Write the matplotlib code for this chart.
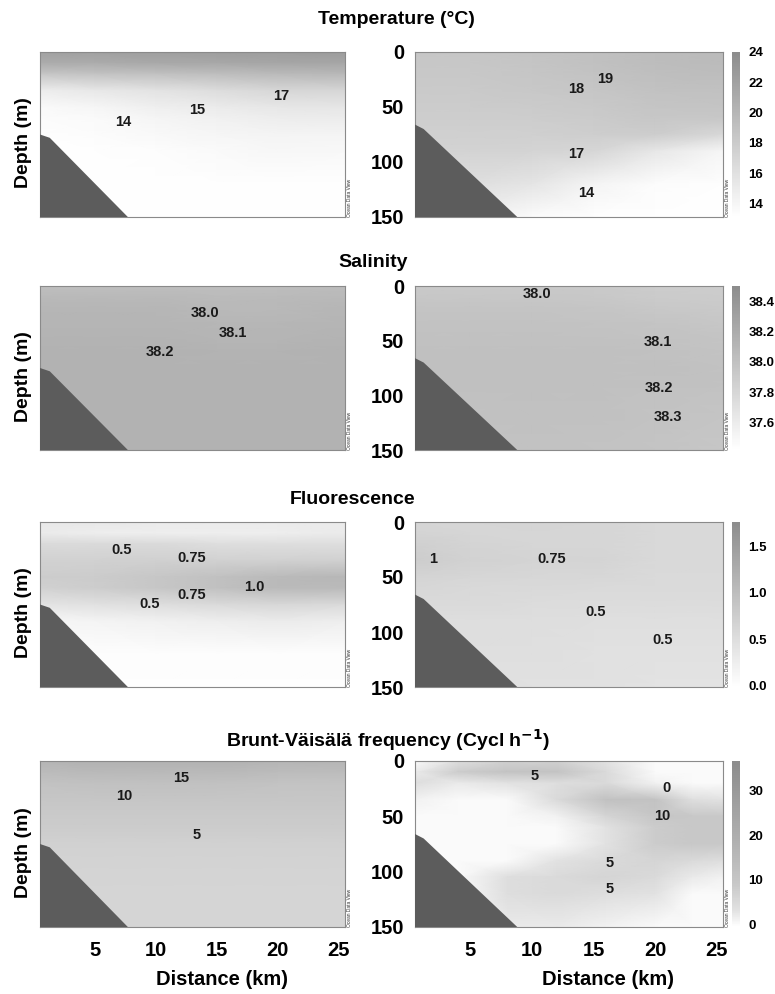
import numpy as np
import matplotlib
matplotlib.use('Agg')
import matplotlib.pyplot as plt
from matplotlib.colors import LinearSegmentedColormap, Normalize

plt.rcParams['font.family'] = ['Liberation Sans', 'DejaVu Sans']
plt.rcParams['font.weight'] = 'bold'

# grid of the sections (km along transect, m depth)
dist = [0.5, 5, 10, 15, 20, 25.5]
depth = [0, 10, 20, 35, 50, 60, 75, 90, 120, 150]

# Temperature (°C)
temp_left = [
    [22.0, 22.0, 22.2, 22.3, 22.3, 22.5],
    [21.0, 21.0, 21.2, 21.3, 21.5, 21.5],
    [18.5, 18.8, 19.0, 19.3, 19.6, 19.8],
    [14.8, 15.3, 15.8, 16.3, 16.9, 17.0],
    [13.6, 14.0, 14.6, 15.0, 15.4, 15.5],
    [13.4, 13.6, 14.1, 14.5, 14.8, 14.9],
    [13.2, 13.4, 13.7, 14.0, 14.2, 14.2],
    [13.2, 13.2, 13.3, 13.6, 13.9, 13.8],
    [13.2, 13.2, 13.2, 13.2, 13.2, 13.2],
    [13.2, 13.2, 13.2, 13.2, 13.2, 13.2],
]
temp_right = [
    [18.5, 18.5, 18.7, 19.0, 19.4, 19.5],
    [18.4, 18.4, 18.6, 19.0, 19.4, 19.5],
    [18.3, 18.3, 18.5, 18.8, 19.2, 19.4],
    [18.1, 18.1, 18.3, 18.5, 18.9, 19.0],
    [17.9, 17.9, 18.0, 18.2, 18.6, 18.7],
    [17.8, 17.8, 17.8, 18.0, 18.4, 18.4],
    [17.6, 17.6, 17.6, 17.7, 17.8, 16.8],
    [17.3, 17.3, 17.2, 17.0, 15.4, 14.0],
    [16.2, 16.2, 15.6, 14.2, 13.4, 13.2],
    [14.6, 14.6, 13.5, 13.2, 13.2, 13.2],
]

# Salinity
sal_left = [
    [38.02, 38.02, 38.03, 38.03, 38.03, 38.05],
    [38.08, 38.08, 38.08, 38.06, 38.07, 38.08],
    [38.10, 38.10, 38.10, 38.08, 38.08, 38.10],
    [38.12, 38.12, 38.12, 38.10, 38.10, 38.12],
    [38.13, 38.13, 38.13, 38.12, 38.12, 38.13],
    [38.14, 38.14, 38.14, 38.13, 38.13, 38.14],
    [38.14, 38.14, 38.14, 38.14, 38.14, 38.14],
    [38.14, 38.14, 38.14, 38.14, 38.14, 38.14],
    [38.14, 38.14, 38.14, 38.14, 38.14, 38.14],
    [38.14, 38.14, 38.14, 38.14, 38.14, 38.14],
]
sal_right = [
    [37.92, 37.92, 37.93, 37.92, 37.90, 37.89],
    [37.95, 37.95, 37.95, 37.94, 37.91, 37.90],
    [37.97, 37.97, 37.97, 37.96, 37.94, 37.92],
    [37.99, 37.99, 37.99, 37.98, 37.97, 37.95],
    [38.00, 38.00, 38.00, 38.00, 37.99, 37.97],
    [38.01, 38.01, 38.01, 38.01, 38.00, 37.98],
    [38.01, 38.01, 38.01, 38.01, 38.01, 37.99],
    [38.01, 38.01, 38.01, 38.01, 38.00, 37.99],
    [37.99, 37.99, 38.00, 38.00, 37.98, 37.96],
    [37.98, 37.98, 37.99, 37.98, 37.97, 37.95],
]

# Fluorescence
fluo_left = [
    [0.35, 0.35, 0.30, 0.30, 0.30, 0.30],
    [0.30, 0.25, 0.25, 0.25, 0.25, 0.30],
    [0.55, 0.55, 0.55, 0.50, 0.50, 0.50],
    [0.70, 0.70, 0.72, 0.70, 0.70, 0.72],
    [0.75, 0.78, 0.85, 0.95, 1.05, 1.10],
    [0.70, 0.75, 0.85, 0.95, 1.05, 1.05],
    [0.40, 0.45, 0.50, 0.55, 0.60, 0.55],
    [0.10, 0.15, 0.20, 0.25, 0.30, 0.25],
    [0.02, 0.02, 0.02, 0.02, 0.02, 0.02],
    [0.00, 0.00, 0.00, 0.00, 0.00, 0.00],
]
fluo_right = [
    [0.62, 0.62, 0.65, 0.62, 0.58, 0.58],
    [0.65, 0.62, 0.62, 0.62, 0.58, 0.58],
    [0.72, 0.65, 0.62, 0.62, 0.58, 0.58],
    [0.75, 0.68, 0.65, 0.65, 0.58, 0.58],
    [0.65, 0.62, 0.60, 0.60, 0.56, 0.56],
    [0.60, 0.58, 0.57, 0.56, 0.55, 0.55],
    [0.55, 0.55, 0.53, 0.52, 0.52, 0.52],
    [0.50, 0.50, 0.50, 0.48, 0.48, 0.48],
    [0.48, 0.48, 0.47, 0.45, 0.45, 0.45],
    [0.46, 0.46, 0.45, 0.45, 0.42, 0.42],
]

# Brunt-Väisälä frequency (cycl/h)
bv_left = [
    [17, 18, 18, 18, 17, 17],
    [14, 15, 15, 15, 14, 14],
    [11, 12, 12, 12, 11, 11],
    [10, 10, 10, 10, 10, 10],
    [8.5, 8.5, 8.5, 8.5, 8.5, 8.5],
    [8, 8, 8, 8, 8, 8],
    [7, 7, 7, 7, 7, 7],
    [6.5, 6.5, 6.5, 6.5, 6.5, 6.5],
    [6, 6, 6, 6, 6, 6],
    [6, 6, 6, 6, 6, 6],
]
bv_dist = [0.5, 4, 8, 12, 16, 20, 23, 25.5]
bv_depth = [0, 10, 20, 35, 50, 60, 75, 90, 105, 120, 150]
bv_right = [
    [0, 4, 7, 7, 3, 0, 0, 0],
    [2, 8, 11, 11, 5, 0, 0, 0],
    [4, 2, 3, 4, 5, 1, 0, 0],
    [1, 0, 0, 5, 12, 11, 4, 3],
    [0, 0, 0, 1, 6, 10, 9, 9],
    [0, 0, 0, 0, 3, 8, 9, 9],
    [0, 0, 0, 0, 3, 8, 9, 9],
    [0, 0, 0, 3, 5, 6, 5, 4],
    [0, 0, 4, 5, 6, 5, 2, 1],
    [0, 0, 4, 5, 4, 3, 0, 0],
    [0, 0, 2, 2, 1, 0, 0, 0],
]

# bottom topography
bottom_left_dist = [0.5, 1.3, 7.7]
bottom_left_depth = [75, 78, 150]
bottom_right_dist = [0.5, 1.2, 8.8]
bottom_right_depth = [66, 70, 150]

# contour labels (distance, depth, text)
lab_temp_left = [(7.3, 64, '14'), (13.4, 53, '15'), (20.3, 40, '17')]
lab_temp_right = [(15.9, 25, '19'), (13.6, 34, '18'), (13.6, 93, '17'), (14.4, 128, '14')]
lab_sal_left = [(14.0, 25, '38.0'), (16.3, 43, '38.1'), (10.3, 60, '38.2')]
lab_sal_right = [(10.4, 7, '38.0'), (20.2, 51, '38.1'), (20.3, 93, '38.2'), (21.0, 120, '38.3')]
lab_fluo_left = [(7.2, 25, '0.5'), (12.9, 33, '0.75'), (18.1, 59, '1.0'), (12.9, 66, '0.75'), (9.5, 75, '0.5')]
lab_fluo_right = [(2.0, 34, '1'), (11.6, 34, '0.75'), (15.2, 82, '0.5'), (20.6, 107, '0.5')]
lab_bv_left = [(12.1, 15, '15'), (7.4, 32, '10'), (13.3, 67, '5')]
lab_bv_right = [(10.2, 14, '5'), (20.9, 24, '0'), (20.6, 50, '10'), (16.3, 92, '5'), (16.3, 116, '5')]

temp_ticks = [14, 16, 18, 20, 22, 24]
sal_ticks = [37.6, 37.8, 38.0, 38.2, 38.4]
fluo_ticks = [0.0, 0.5, 1.0, 1.5]
bv_ticks = [0, 10, 20, 30]

grey = LinearSegmentedColormap.from_list('odv_grey', ['white', '#8c8c8c'])
bv_lo, bv_hi = -0.65, 36.7
f = lambda v: (v - bv_lo) / (bv_hi - bv_lo)
bv_cmap = LinearSegmentedColormap.from_list(
    'odv_bv', [(0, 'white'), (f(3), '#e2e2e2'), (f(9), '#c8c8c8'), (f(18), '#b2b2b2'), (1, '#8c8c8c')])

rows = [
    ('Temperature (°C)', temp_left, temp_right, dist, depth, 13.1, 24.0, grey, temp_ticks, '{:.0f}',
     lab_temp_left, lab_temp_right, 0.512, 20, 52, 217),
    ('Salinity', sal_left, sal_right, dist, depth, 37.42, 38.5, grey, sal_ticks, '{:.1f}',
     lab_sal_left, lab_sal_right, 0.482, 262, 286, 450),
    ('Fluorescence', fluo_left, fluo_right, dist, depth, -0.02, 1.77, grey, fluo_ticks, '{:.1f}',
     lab_fluo_left, lab_fluo_right, 0.455, 500, 522, 687),
    ('Brunt-Väisälä frequency (Cycl h$^{-1}$)', bv_left, bv_right, bv_dist, bv_depth, bv_lo, bv_hi, bv_cmap,
     bv_ticks, '{:.0f}', lab_bv_left, lab_bv_right, 0.5, 740, 761, 927),
]

W, H = 775, 994
fig = plt.figure(figsize=(W / 100, H / 100), dpi=100)


def style(ax, bottom_dist, bottom_depth, labels):
    ax.fill(list(bottom_dist) + [bottom_dist[0]], list(bottom_depth) + [150], color='#5c5c5c', lw=0, zorder=3)
    for x, z, s in labels:
        ax.text(x, z, s, ha='center', va='center', fontsize=10.5, fontweight='bold', color='#1a1a1a', zorder=4)
    ax.set_xlim(0.5, 25.5)
    ax.set_ylim(150, 0)
    for sp in ax.spines.values():
        sp.set_color('#8a8a8a')
        sp.set_linewidth(0.8)
    ax.tick_params(length=0, labelsize=14.5)
    ax.text(1.005, 0.0, 'Ocean Data View', transform=ax.transAxes, rotation=90,
            fontsize=3.5, fontweight='normal', va='bottom', ha='left', color='#333')


for i, (title, left, right, xs, zs, vmin, vmax, cmap, ticks, fmt, labL, labR, tx, ty, top, bot) in enumerate(rows):
    b = 1 - bot / H
    h = (bot - top) / H
    norm = Normalize(vmin, vmax)
    axL = fig.add_axes([40 / W, b, 305 / W, h])
    axR = fig.add_axes([415 / W, b, 308 / W, h])
    X, Z = np.meshgrid(dist, depth)
    axL.pcolormesh(X, Z, np.array(left), shading='gouraud', cmap=cmap, norm=norm)
    Xr, Zr = np.meshgrid(xs, zs)
    m = axR.pcolormesh(Xr, Zr, np.array(right), shading='gouraud', cmap=cmap, norm=norm)
    style(axL, bottom_left_dist, bottom_left_depth, labL)
    style(axR, bottom_right_dist, bottom_right_depth, labR)

    axL.set_yticks([])
    axL.set_ylabel('Depth (m)', fontsize=14, fontweight='bold')
    axL.yaxis.set_label_coords(-0.026, 0.45)
    axR.set_yticks([0, 50, 100, 150])
    axR.tick_params(axis='y', pad=8)

    if i == len(rows) - 1:
        for ax in (axL, axR):
            ax.set_xticks([5, 10, 15, 20, 25])
            ax.tick_params(axis='x', pad=10)
        axL.set_xlabel('Distance (km)', fontsize=14.5, fontweight='bold')
        axL.xaxis.set_label_coords(0.597, -0.26)
        axR.set_xlabel('Distance (km)', fontsize=14.5, fontweight='bold')
        axR.xaxis.set_label_coords(0.627, -0.26)
    else:
        axL.set_xticks([])
        axR.set_xticks([])

    cax = fig.add_axes([732 / W, b, 8 / W, h])
    cb = fig.colorbar(m, cax=cax)
    cb.outline.set_visible(False)
    cb.set_ticks(ticks)
    cb.set_ticklabels([fmt.format(t) for t in ticks])
    cax.tick_params(length=0, labelsize=9.5, pad=6)

    fig.text(tx, 1 - ty / H, title, ha='center', va='center', fontsize=14, fontweight='bold')

fig.savefig('out.png', dpi=100, facecolor='white')
